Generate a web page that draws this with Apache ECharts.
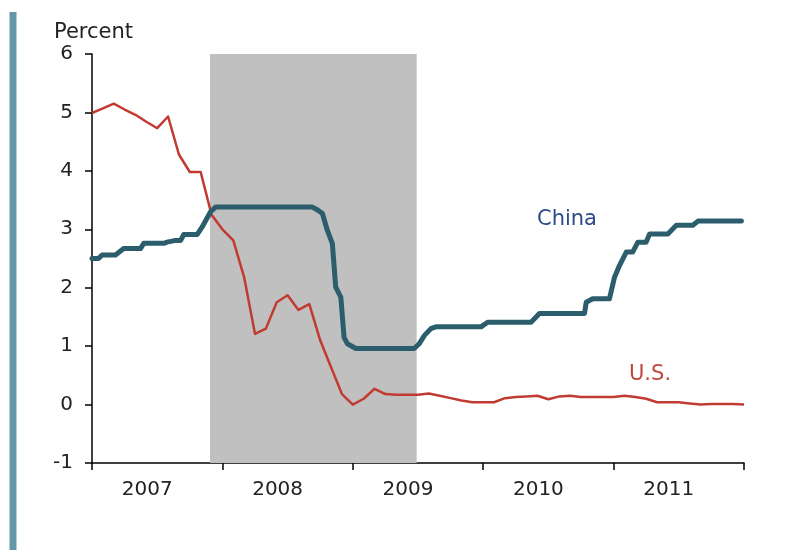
<!DOCTYPE html>
<html>
<head>
<meta charset="utf-8">
<script src="https://cdn.jsdelivr.net/npm/echarts@6/dist/echarts.min.js"></script>
<style>html,body{margin:0;padding:0;background:#fff}#c{width:786px;height:550px}</style>
</head>
<body>
<div id="c"></div>
<script>
// Year labels on the x axis
var yearLabels = ['2007', '2008', '2009', '2010', '2011'];
// Y tick range
var yMin = -1, yMax = 6;
// Recession shading (fractional years)
var recession = [2007.905, 2009.49];

// U.S. rate, monthly from Jan 2007
var usValues = [
  4.99, 5.07, 5.15, 5.05, 4.96, 4.84, 4.73, 4.93, 4.28, 3.98,
  3.98, 3.25, 3.00, 2.81, 2.18, 1.21, 1.30, 1.75, 1.87, 1.62,
  1.72, 1.10, 0.64, 0.18, 0.00, 0.10, 0.27, 0.18, 0.17, 0.17,
  0.17, 0.19, 0.15, 0.11, 0.07, 0.04, 0.04, 0.04, 0.11, 0.13,
  0.14, 0.15, 0.09, 0.14, 0.15, 0.13, 0.13, 0.13, 0.13, 0.15,
  0.13, 0.10, 0.04, 0.04, 0.04, 0.02, 0.00, 0.01, 0.01, 0.01,
  0.00
];

// China rate: dates (fractional years) and values
var chinaDates = [
  2007.000, 2007.050, 2007.077, 2007.180, 2007.243, 2007.372, 2007.397, 2007.551,
  2007.576, 2007.641, 2007.680, 2007.704, 2007.806, 2007.845, 2007.909, 2007.948,
  2008.690, 2008.730, 2008.767, 2008.805, 2008.843, 2008.869, 2008.908, 2008.933,
  2008.959, 2009.023, 2009.471, 2009.509, 2009.548, 2009.599, 2009.637, 2009.983,
  2010.034, 2010.367, 2010.431, 2010.777, 2010.790, 2010.840, 2010.968, 2011.007,
  2011.045, 2011.097, 2011.146, 2011.186, 2011.250, 2011.276, 2011.416, 2011.481,
  2011.608, 2011.647, 2011.980
];
var chinaValues = [
  2.50, 2.50, 2.56, 2.56, 2.67, 2.67, 2.76, 2.76,
  2.78, 2.81, 2.81, 2.91, 2.91, 3.04, 3.30, 3.38,
  3.38, 3.33, 3.27, 2.98, 2.76, 2.01, 1.84, 1.15,
  1.04, 0.96, 0.96, 1.04, 1.18, 1.30, 1.33, 1.33,
  1.41, 1.41, 1.56, 1.56, 1.75, 1.81, 1.81, 2.18,
  2.38, 2.61, 2.61, 2.78, 2.78, 2.92, 2.92, 3.07,
  3.07, 3.14, 3.14
];

var FONT = 'DejaVu Sans';
var usData = usValues.map(function (v, i) { return [2007 + i / 12, v]; });
var chinaData = chinaDates.map(function (d, i) { return [d, chinaValues[i]]; });

var chart = echarts.init(document.getElementById('c'), null, {renderer: 'canvas'});
chart.setOption({
  animation: false,
  grid: {left: 92, right: 42, top: 54, bottom: 87, containLabel: false},
  xAxis: [{
    type: 'value', min: 2007, max: 2012, interval: 1,
    axisLine: {show: true, onZero: false, lineStyle: {color: '#000', width: 1.5}},
    axisTick: {show: true, inside: false, length: 7, lineStyle: {color: '#000', width: 1.5}},
    axisLabel: {show: false},
    splitLine: {show: false}
  }, {
    type: 'category', data: yearLabels, boundaryGap: true, position: 'bottom',
    axisLine: {show: false, onZero: false}, axisTick: {show: false}, splitLine: {show: false},
    axisLabel: {show: true, margin: 17, color: '#222', fontFamily: FONT, fontSize: 20,
      padding: [0, 20, 0, 0]}
  }],
  yAxis: {
    type: 'value', min: yMin, max: yMax, interval: 1,
    axisLine: {show: true, onZero: false, lineStyle: {color: '#000', width: 1.5}},
    axisTick: {show: true, inside: false, length: 7, lineStyle: {color: '#000', width: 1.5}},
    axisLabel: {margin: 19, color: '#222', fontFamily: FONT, fontSize: 20},
    splitLine: {show: false}
  },
  graphic: [
    {type: 'rect', shape: {x: 9.5, y: 12, width: 7, height: 540}, style: {fill: '#6497a7'}},
    {type: 'text', left: 54, top: 22, style: {text: 'Percent', fontFamily: FONT, fontSize: 21, fill: '#222'}},
    {type: 'text', left: 537, top: 209, style: {text: 'China', fontFamily: FONT, fontSize: 21, fill: '#2e4a87'}},
    {type: 'text', left: 629, top: 364, style: {text: 'U.S.', fontFamily: FONT, fontSize: 21, fill: '#c0463e'}}
  ],
  series: [
    {
      type: 'line', data: [], z: 1, silent: true,
      markArea: {silent: true, itemStyle: {color: '#c0c0c0', opacity: 1},
        data: [[{xAxis: recession[0]}, {xAxis: recession[1]}]]}
    },
    {
      name: 'U.S.', type: 'line', data: usData, z: 3, symbol: 'none',
      lineStyle: {color: '#c23b32', width: 2.5, join: 'round'}
    },
    {
      name: 'China', type: 'line', data: chinaData, z: 4, symbol: 'none',
      lineStyle: {color: '#2b5d6d', width: 5, join: 'round', cap: 'round'}
    }
  ]
});
</script>
</body>
</html>
